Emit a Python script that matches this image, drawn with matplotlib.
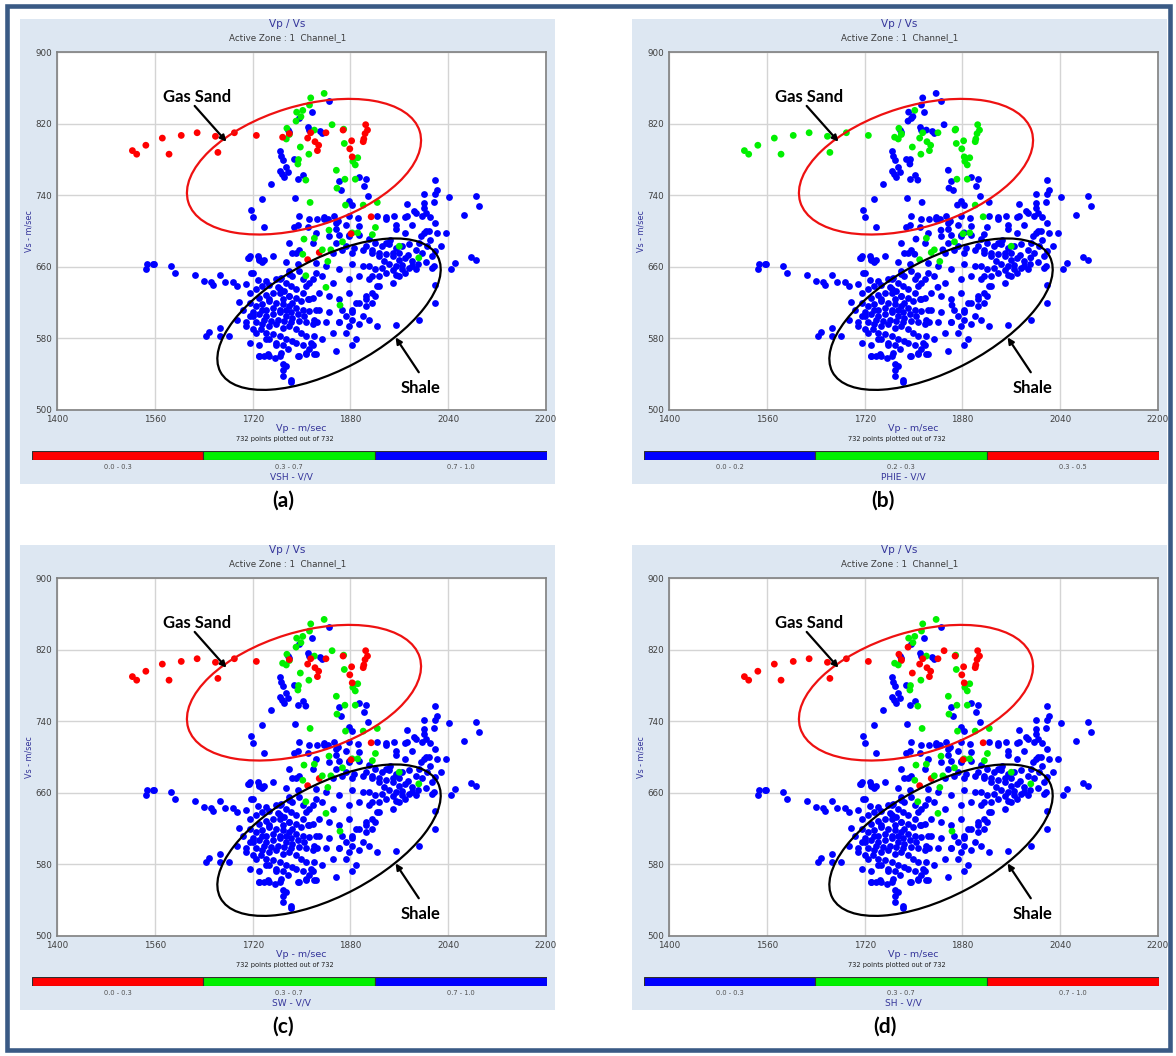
import matplotlib
matplotlib.use("Agg")
import matplotlib.pyplot as plt
from matplotlib.patches import Ellipse, Rectangle
from matplotlib.transforms import Affine2D, ScaledTranslation

# Vp / Vs crossplot, 4 panels coloured by VSH, PHIE, SW, SH.
# Points that are blue in every panel
blue_vp = [1845, 1817, 1796, 1810, 1813, 1830, 1833, 1777, 1779, 1764, 1766, 1769, 1775, 1764, 1768, 1772,
           1777, 1795, 1802, 1750, 1788, 1862, 1864, 1894, 1906, 1902, 1909, 1878, 1883, 1736, 1717, 1721,
           1739, 1790, 1796, 1794, 1788, 1813, 1810, 1826, 1837, 1843, 1853, 1859, 1856, 1862, 1872, 1878,
           1892, 1894, 1878, 1924, 1938, 1951, 1970, 1984, 2000, 1998, 2019, 2017, 2010, 1981, 1995, 2003,
           1970, 1954, 1938, 1780, 1785, 1796, 1818, 1856, 1872, 1886, 1905, 1916, 1927, 1949, 1715, 1728,
           1753,
           2019, 2022, 2000, 2041, 2085, 2091, 2066, 1973, 2000, 2003, 1987, 1973, 1939, 1955, 2019, 2022,
           2009, 2000, 2036, 2028, 2019, 2052, 2044, 2077, 2085, 2017, 2014, 2019, 2019, 1992, 1954,
           1911, 1921, 1932, 1943, 1954, 1965, 1976, 1987, 1992, 1916, 1927, 1938, 1949, 1960, 1970, 1981,
           1911, 1921, 1932, 1943, 1954, 1965, 1976, 1927, 1938, 1954, 1970, 1987, 1998,
           1837, 1856, 1824, 1845, 1878, 1894, 1851, 1867, 1883, 1900, 1824, 1840, 1862, 1883, 1900, 1818,
           1834, 1851, 1878, 1894, 1911, 1924, 1916, 1905, 1829, 1845, 1862, 1878, 1889, 1905, 1916, 1829,
           1845, 1867, 1883, 1900, 1911, 1821, 1840, 1862, 1878, 1894, 1873, 1889, 1924, 1883, 1883, 1856,
           1557, 1587, 1592, 1625, 1641, 1652, 1655, 1667, 1674, 1688, 1694, 1709, 1714, 1730, 1736, 1739,
           1721, 1728, 1698, 1704, 1694, 1715, 1666, 1649, 1643, 1666, 1682, 1715, 1731, 1739, 1745, 1757,
           1731, 1769, 1770, 1769, 1783, 1794, 1807, 1818, 1813, 1823, 1774, 1791, 1794, 1780,
           1725, 1736, 1747, 1758, 1766, 1774, 1783, 1791, 1802, 1807, 1813, 1742, 1753, 1764, 1772, 1780,
           1791, 1799, 1810, 1818, 1715, 1726, 1736, 1747, 1758, 1769, 1780, 1791, 1802, 1813, 1720, 1731,
           1742, 1753, 1764, 1774, 1785, 1796, 1807, 1818, 1726, 1736, 1747, 1758, 1769, 1780, 1791, 1799,
           1807, 1742, 1753, 1764, 1774, 1785, 1758, 1769, 1777, 1747, 1766, 1734, 1720, 1709, 1715, 1731,
           1761, 1785, 1802, 1823, 1796, 1813, 1823, 1826, 1821, 1815, 1802, 1791, 1764, 1774, 1753, 1742,
           1783, 1794, 1804, 1785, 1769, 1739, 1750, 1761, 1772, 1783,
           1547, 1558, 1546,
           1712, 1731, 1717, 1742, 1764, 1780, 1764, 1780, 1747, 1736, 1720, 1709, 1726, 1742, 1758, 1764,
           1775, 1783, 1731, 1747, 1796, 1807, 1821, 1834, 1851, 1862, 1872, 1883, 1894, 1905, 1921, 1927,
           1949, 1960, 1981, 2003, 2014,
           1945, 1960, 1975, 1990, 1935, 1950, 1965, 2005, 2010, 1915]
blue_vs = [845, 833, 826, 816, 813, 812, 810, 813, 811, 790, 784, 780, 772, 767, 764, 761,
           766, 758, 763, 753, 781, 756, 746, 761, 758, 750, 739, 734, 729, 736, 724, 716,
           705, 737, 717, 707, 704, 713, 704, 714, 716, 713, 717, 711, 702, 696, 707, 717,
           715, 706, 696, 717, 716, 717, 716, 722, 726, 717, 741, 733, 716, 707, 694, 700,
           698, 702, 687, 687, 676, 679, 687, 687, 683, 681, 683, 679, 676, 676, 672, 672,
           672,
           757, 746, 741, 738, 739, 728, 718, 730, 731, 720, 720, 717, 713, 707, 709, 698,
           700, 698, 698, 683, 678, 664, 658, 671, 668, 661, 659, 640, 620, 601, 595,
           691, 687, 683, 685, 681, 683, 685, 679, 687, 676, 672, 674, 672, 668, 670, 666,
           661, 657, 659, 663, 661, 657, 659, 650, 653, 651, 653, 657, 676,
           713, 709, 698, 694, 694, 696, 676, 679, 676, 679, 664, 661, 657, 663, 661, 646,
           650, 642, 646, 650, 646, 638, 631, 627, 631, 627, 624, 631, 620, 616, 620, 612,
           609, 612, 609, 605, 601, 601, 598, 598, 594, 596, 586, 579, 594, 601, 572, 566,
           663, 661, 653, 651, 644, 643, 640, 651, 643, 643, 638, 641, 670, 669, 665, 668,
           653, 645, 621, 612, 601, 605, 592, 587, 583, 583, 583, 575, 572, 560, 562, 558,
           560, 551, 545, 538, 531, 560, 562, 572, 568, 562, 665, 676, 663, 655,
           635, 638, 640, 646, 648, 642, 638, 635, 631, 638, 642, 629, 631, 631, 633, 627,
           625, 622, 624, 625, 620, 616, 618, 622, 620, 618, 616, 614, 612, 611, 609, 607,
           605, 607, 609, 605, 603, 599, 598, 596, 598, 596, 594, 596, 592, 594, 590, 586,
           583, 586, 585, 583, 579, 577, 575, 572, 568, 579, 564, 590, 590, 598, 631, 625,
           637, 650, 646, 653, 655, 624, 612, 598, 583, 575, 572, 575, 612, 612, 614, 612,
           609, 607, 605, 620, 624, 601, 599, 601, 599, 598,
           663, 663, 657,
           670, 668, 653, 644, 646, 652, 635, 627, 624, 612, 605, 594, 586, 579, 572, 560,
           549, 533, 560, 560, 560, 564, 562, 579, 586, 598, 605, 612, 620, 624, 627, 639,
           642, 650, 661, 665, 672,
           690, 676, 673, 663, 666, 656, 662, 683, 690, 650]

# Points that change colour between panels:
# 11 in the upper-left row, 32 + 19 in the gas sand cluster, 15 + 2 below it
hl_vp = [1523, 1530, 1545, 1572, 1583, 1603, 1629, 1659, 1663, 1690, 1726,
         1815, 1837, 1813, 1792, 1802, 1799, 1791, 1850, 1776, 1780, 1775, 1821, 1798, 1812, 1795, 1794,
         1869, 1870, 1884, 1892, 1888, 1857, 1807, 1871, 1858, 1888, 1814, 1872, 1901, 1924, 1845, 1921,
         1905, 1908, 1904, 1902, 1901, 1868, 1882, 1879, 1883, 1840, 1810, 1815, 1822, 1828, 1826, 1769,
         1780, 1914, 1829,
         1804, 1821, 1867, 1883, 1892, 1916, 1960, 1992, 1843, 1807, 1840, 1863, 1802, 1834, 1848,
         1881, 1810]
hl_vs = [790, 786, 796, 804, 786, 807, 810, 806, 788, 810, 807,
         849, 854, 841, 833, 835, 828, 823, 819, 815, 808, 803, 813, 794, 786, 780, 775,
         814, 798, 778, 782, 774, 768, 757, 758, 748, 758, 732, 729, 729, 732, 701, 704,
         819, 813, 809, 803, 800, 813, 801, 792, 783, 810, 804, 810, 800, 796, 790, 805,
         809, 716, 676,
         691, 692, 688, 698, 698, 696, 683, 670, 666, 650, 637, 617, 674, 679, 679,
         697, 668]
vsh_cls = "r" * 11 + "g" * 32 + "r" * 19 + "g" * 15 + "r" * 2
phie_cls = ("g" * 11
            + "bbbb" "gbbb" "gggb" "ggbb" "gggg" "gbbg" "bgbb" "gbbb"
            + "g" * 19
            + "bggb" "gbgb" "gbbb" "bgb"
            + "gg")
sw_cls = ("r" * 11
          + "g" * 22 + "b" + "g" * 9
          + "r" * 15 + "g" + "r" * 3
          + "g" * 15
          + "r" * 2)
sh_cls = ("r" * 11
          + "g" * 6 + "r" * 4 + "g" * 2 + "r" + "g" * 19
          + "r" * 15 + "g" + "r" * 3
          + "g" * 15
          + "r" * 2)

panels = [
    ("(a)", "VSH - V/V", ["0.0 - 0.3", "0.3 - 0.7", "0.7 - 1.0"], "rgb", vsh_cls),
    ("(b)", "PHIE - V/V", ["0.0 - 0.2", "0.2 - 0.3", "0.3 - 0.5"], "bgr", phie_cls),
    ("(c)", "SW - V/V", ["0.0 - 0.3", "0.3 - 0.7", "0.7 - 1.0"], "rgb", sw_cls),
    ("(d)", "SH - V/V", ["0.0 - 0.3", "0.3 - 0.7", "0.7 - 1.0"], "bgr", sh_cls),
]
origins = [(20, 19), (632, 19), (20, 545), (632, 545)]
letter_x = [263, 251, 263, 253]

COL = {"r": "#ff0000", "g": "#00f000", "b": "#0000ff"}
BG = "#dde7f2"
NAVY = "#34349a"

W, H = 1176, 1056
fig = plt.figure(figsize=(W / 100, H / 100), dpi=100)
fig.patch.set_facecolor("white")


def fx(x):
    return x / W


def fy(y):
    return 1 - y / H


def rect(x, y, w, h):
    return [x / W, 1 - (y + h) / H, w / W, h / H]


def px_ellipse(ax, cx, cy, w, h, ang, color):
    # ellipse sized in pixels, centred on a data point
    tr = Affine2D() + ScaledTranslation(cx, cy, ax.transData)
    e = Ellipse((0, 0), w, h, angle=ang, transform=tr, fill=False,
                edgecolor=color, lw=1.6, zorder=5, clip_on=False)
    ax.add_artist(e)


# outer frame
fig.add_artist(Rectangle((fx(7), fy(1050)), fx(1170 - 7), (1050 - 6) / H,
                         transform=fig.transFigure, fill=False,
                         edgecolor="#3a5a85", lw=3.3, zorder=-2))

for (letter, var, ranges, order, cls), (ox, oy), lx in zip(panels, origins, letter_x):
    fig.add_artist(Rectangle((fx(ox), fy(oy + 464.5)), 535 / W, 464.5 / H,
                             transform=fig.transFigure, facecolor=BG,
                             edgecolor="none", zorder=-1))
    ax = fig.add_axes(rect(ox + 37.3, oy + 33.3, 488.5, 357.5))
    ax.set_xlim(1400, 2200)
    ax.set_ylim(500, 900)
    ax.set_xticks(range(1400, 2201, 160))
    ax.set_yticks(range(500, 901, 80))
    ax.grid(True, color="#d4d4d4", lw=1)
    ax.set_axisbelow(True)
    ax.tick_params(length=0, labelsize=6.3, labelcolor="#404040", pad=3.5)
    for s in ax.spines.values():
        s.set_color("#808080")
        s.set_linewidth(1.2)

    ax.scatter(blue_vp, blue_vs, s=24, c=COL["b"], linewidths=0, zorder=2)
    ax.scatter(hl_vp, hl_vs, s=24, c=[COL[k] for k in cls], linewidths=0, zorder=3)

    px_ellipse(ax, 1804, 772, 242, 121, 17, "#ee1111")
    px_ellipse(ax, 1845, 607, 246, 111, 28, "black")

    ax.text(1629, 850, "Gas Sand", family="Lato", weight="bold", fontsize=12,
            ha="center", va="center", zorder=6)
    ax.annotate("", xy=(1677, 800), xytext=(1625, 840),
                arrowprops=dict(arrowstyle="-|>", color="black", lw=1.6,
                                mutation_scale=9, shrinkA=0, shrinkB=0), zorder=6)
    ax.text(1995, 524, "Shale", family="Lato", weight="bold", fontsize=12,
            ha="center", va="center", zorder=6)
    ax.annotate("", xy=(1954, 581), xytext=(1992, 542),
                arrowprops=dict(arrowstyle="-|>", color="black", lw=1.6,
                                mutation_scale=9, shrinkA=0, shrinkB=0), zorder=6)

    fig.text(fx(ox + 267.5), fy(oy + 5), "Vp / Vs", ha="center", va="center",
             fontsize=7.5, color=NAVY)
    fig.text(fx(ox + 267.5), fy(oy + 18.7), "Active Zone : 1  Channel_1", ha="center",
             va="center", fontsize=6.3, color="#3c3c3c")
    fig.text(fx(ox + 9), fy(oy + 212), "Vs - m/sec", rotation=90, ha="center",
             va="center", fontsize=5.8, color=NAVY)
    fig.text(fx(ox + 281.5), fy(oy + 409.3), "Vp - m/sec", ha="center", va="center",
             fontsize=6.8, color=NAVY)
    fig.text(fx(ox + 264.7), fy(oy + 420.3), "732 points plotted out of 732", ha="center",
             va="center", fontsize=4.8, color="#202020")

    # colour key bar
    cax = fig.add_axes(rect(ox + 11.7, oy + 431.7, 515, 9.3))
    cax.barh(0, 1, left=[0, 1, 2], height=1, color=[COL[k] for k in order],
             edgecolor="#303030", lw=0.8)
    cax.set_xlim(0, 3)
    cax.set_ylim(-0.5, 0.5)
    cax.axis("off")
    for i, r in enumerate(ranges):
        fig.text(fx(ox + 11.7 + 515 * (i + 0.5) / 3), fy(oy + 447.7), r, ha="center",
                 va="center", fontsize=4.8, color="#505050")
    fig.text(fx(ox + 271), fy(oy + 457.7), var, ha="center", va="center",
             fontsize=6.5, color=NAVY)
    fig.text(fx(ox + lx), fy(oy + 482), letter, ha="center", va="center",
             family="Lato", weight="bold", fontsize=15)

fig.savefig("out.png", dpi=100)
